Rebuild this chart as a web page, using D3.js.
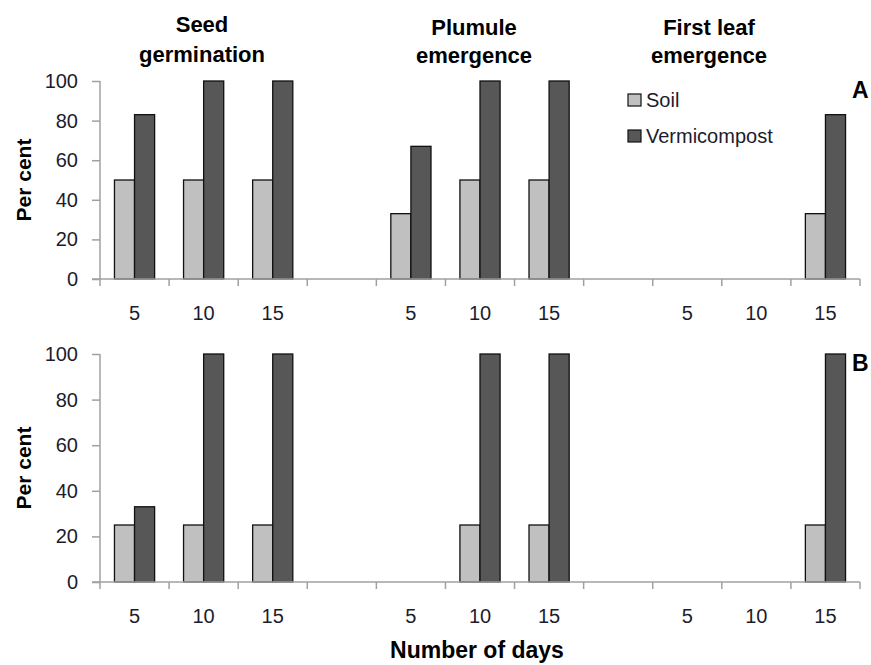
<!DOCTYPE html>
<html>
<head>
<meta charset="utf-8">
<script src="https://cdn.jsdelivr.net/npm/d3@7"></script>
<style>
  body { margin: 0; background: #fff; }
  svg { display: block; font-family: "Liberation Sans", Arial, sans-serif; }
</style>
</head>
<body>
<svg id="chart" width="871" height="665"></svg>
<script>
// categories along the x axis (blank slots separate the three stages)
const slots = ['s5', 's10', 's15', 'gap1', 'p5', 'p10', 'p15', 'gap2', 'l5', 'l10', 'l15'];
const slotLabels = ['5', '10', '15', '', '5', '10', '15', '', '5', '10', '15'];
const series = ['Soil', 'Vermicompost'];
const stageTitles = [['Seed', 'germination'], ['Plumule', 'emergence'], ['First leaf', 'emergence']];

// panel A
const soilA = [50, 50, 50, null, 33, 50, 50, null, 0, 0, 33];
const vermiA = [83, 100, 100, null, 67, 100, 100, null, 0, 0, 83];
// panel B
const soilB = [25, 25, 25, null, 0, 25, 25, null, 0, 0, 25];
const vermiB = [33, 100, 100, null, 0, 100, 100, null, 0, 0, 100];

const yTicks = [0, 20, 40, 60, 80, 100];
const colors = { Soil: '#c0c0c0', Vermicompost: '#575757' };

const svg = d3.select('#chart');
const axisColor = '#a0a0a0';
const textColor = '#1c1c2c';

const x = d3.scaleBand().domain(slots).range([100, 860]).padding(0);
const xInner = d3.scaleBand().domain(series).range([0, x.bandwidth()]).paddingOuter(0.72);

function drawPanel(top, bottom, soil, vermi, tag) {
  const y = d3.scaleLinear().domain([0, 100]).range([bottom, top]);
  const g = svg.append('g');

  // bars
  const rows = [];
  slots.forEach((s, i) => {
    if (soil[i]) rows.push({ slot: s, key: 'Soil', v: soil[i] });
    if (vermi[i]) rows.push({ slot: s, key: 'Vermicompost', v: vermi[i] });
  });
  g.selectAll('rect.bar').data(rows).join('rect')
    .attr('class', 'bar')
    .attr('x', d => x(d.slot) + xInner(d.key))
    .attr('width', xInner.bandwidth())
    .attr('y', d => y(d.v))
    .attr('height', d => y(0) - y(d.v))
    .attr('fill', d => colors[d.key])
    .attr('stroke', '#111')
    .attr('stroke-width', 1.3);

  // y axis
  const ya = g.append('g').attr('transform', 'translate(100,0)')
    .call(d3.axisLeft(y).tickValues(yTicks).tickSize(8).tickPadding(14));
  ya.select('.domain').attr('stroke', axisColor).attr('stroke-width', 1.5).attr('d', `M0,${top}V${bottom}`);
  ya.selectAll('.tick line').attr('stroke', axisColor).attr('stroke-width', 1.5);
  ya.selectAll('.tick text').attr('fill', textColor).style('font-size', '20px');

  // x axis: ticks at slot boundaries, labels at slot centres
  const xa = g.append('g').attr('transform', `translate(0,${bottom})`);
  xa.append('line').attr('x1', 92).attr('x2', 860)
    .attr('stroke', axisColor).attr('stroke-width', 1.5);
  const bounds = slots.map(s => x(s)).concat([x.range()[1]]);
  xa.selectAll('line.tk').data(bounds).join('line')
    .attr('class', 'tk')
    .attr('x1', d => d).attr('x2', d => d)
    .attr('y1', 0).attr('y2', 7)
    .attr('stroke', axisColor).attr('stroke-width', 1.5);
  xa.selectAll('text').data(slots).join('text')
    .attr('x', d => x(d) + x.bandwidth() / 2)
    .attr('y', 41)
    .attr('text-anchor', 'middle')
    .attr('fill', textColor)
    .style('font-size', '20px')
    .text((d, i) => slotLabels[i]);

  // y title
  g.append('text')
    .attr('transform', `translate(31,${(top + bottom) / 2}) rotate(-90)`)
    .attr('text-anchor', 'middle')
    .attr('font-weight', 'bold')
    .style('font-size', '21px')
    .text('Per cent');

  // panel tag
  g.append('text')
    .attr('x', 852).attr('y', top + 17)
    .attr('font-weight', 'bold')
    .style('font-size', '23px')
    .text(tag);
}

drawPanel(81, 279, soilA, vermiA, 'A');
drawPanel(354, 582, soilB, vermiB, 'B');

// stage titles
const titleX = [202, 474, 709];
const titleY = [[32, 62], [35, 63], [35, 63]];
stageTitles.forEach((lines, i) => {
  lines.forEach((t, j) => {
    svg.append('text')
      .attr('x', titleX[i]).attr('y', titleY[i][j])
      .attr('text-anchor', 'middle')
      .attr('font-weight', 'bold')
      .style('font-size', '22px')
      .text(t);
  });
});

// legend
const lg = svg.append('g').attr('transform', 'translate(628,94)');
series.forEach((s, i) => {
  const row = lg.append('g').attr('transform', `translate(0,${i * 36})`);
  row.append('rect').attr('width', 13).attr('height', 12)
    .attr('fill', colors[s]).attr('stroke', '#111').attr('stroke-width', 1.2);
  row.append('text').attr('x', 18).attr('y', 13)
    .attr('fill', textColor).style('font-size', '20px').text(s);
});

// x title
svg.append('text')
  .attr('x', 477).attr('y', 658)
  .attr('text-anchor', 'middle')
  .attr('font-weight', 'bold')
  .style('font-size', '23px')
  .text('Number of days');
</script>
</body>
</html>
